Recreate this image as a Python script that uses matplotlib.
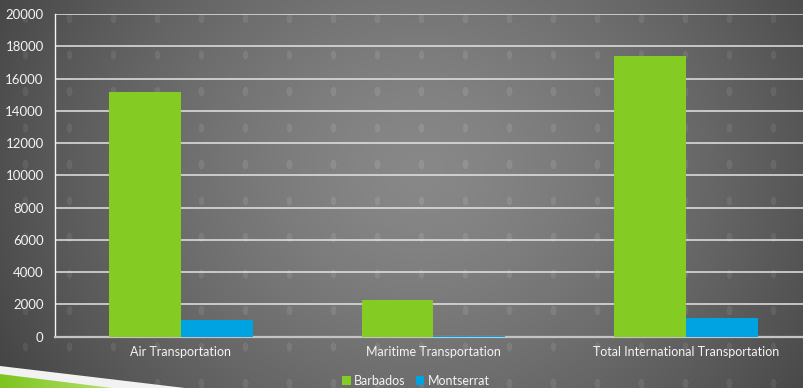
import numpy as np
import matplotlib
matplotlib.use("Agg")
import matplotlib.pyplot as plt
from matplotlib.patches import Polygon, Patch

plt.rcParams['font.family'] = ['Lato', 'DejaVu Sans']

categories = ["Air Transportation", "Maritime Transportation", "Total International Transportation"]
barbados = [15150, 2250, 17400]
montserrat = [1050, 60, 1180]
series_names = ["Barbados", "Montserrat"]
y_ticks = [0, 2000, 4000, 6000, 8000, 10000, 12000, 14000, 16000, 18000, 20000]

GREEN = "#84CB23"
BLUE = "#00A3E2"

W, H = 804, 388
fig = plt.figure(figsize=(W / 100, H / 100), dpi=100)

# ---- background: radial grey gradient with a dotted pattern ----
bg = fig.add_axes([0, 0, 1, 1], zorder=-10)
yy, xx = np.mgrid[0:H, 0:W].astype(float)
r = np.sqrt(((xx - 420) / 480) ** 2 + ((yy - 170) / 420) ** 2)
val = 136 - 68 * np.clip(r, 0, 1.3) ** 1.4
# dot grid
for cx in np.arange(25, W + 20, 44):
    for cy in np.arange(18, H + 20, 36.5):
        m = ((xx - cx) / 3.0) ** 2 + ((yy - cy) / 4.5) ** 2 <= 1
        val[m] += 12
img = np.clip(val, 0, 255) / 255.0
bg.imshow(np.dstack([img, img, img]), extent=(0, W, H, 0), aspect="auto", interpolation="bilinear")
bg.set_xlim(0, W)
bg.set_ylim(H, 0)
bg.axis("off")

# decorative stripes in the lower-left corner
bg.add_patch(Polygon([(0, 366), (185, H), (0, H)], closed=True, facecolor="#f2f2f2", edgecolor="none"))
stripe = np.linspace(0, 1, 130)
grad = np.dstack([
    np.tile(0.49 + 0.25 * stripe, (16, 1)),
    np.tile(0.77 + 0.12 * stripe, (16, 1)),
    np.tile(0.12 + 0.35 * stripe, (16, 1)),
])
gim = bg.imshow(grad, extent=(0, 130, H, 372), aspect="auto", zorder=3)
gpoly = Polygon([(0, 374), (112, H), (0, H)], closed=True, transform=bg.transData)
gim.set_clip_path(gpoly)

# ---- bar chart ----
left = 54.75 / W
bottom = (H - 336.7) / H
ax = fig.add_axes([left, bottom, 757.5 / W, 322.7 / H])
ax.patch.set_alpha(0)

x = np.arange(len(categories))
bw = 0.285
ax.bar(x - bw / 2, barbados, width=bw, color=GREEN, zorder=3, label=series_names[0])
ax.bar(x + bw / 2, montserrat, width=bw, color=BLUE, zorder=3, label=series_names[1])

ax.set_xlim(-0.5, len(categories) - 0.5)
ax.set_ylim(0, 20000)
ax.set_yticks(y_ticks)
ax.set_yticklabels([str(t) for t in y_ticks])
ax.set_xticks(x)
ax.set_xticklabels(categories)

ax.yaxis.grid(True, color="#e4e4e4", linewidth=1.1, zorder=1)
ax.set_axisbelow(True)
ax.tick_params(axis="y", length=0, pad=8, labelsize=9.5, labelcolor="#f4f4f4")
ax.tick_params(axis="x", length=0, pad=7, labelsize=9, labelcolor="#f4f4f4")

for s in ("top", "right"):
    ax.spines[s].set_visible(False)
ax.spines["left"].set_color("#f4f4f4")
ax.spines["left"].set_linewidth(1.0)
ax.spines["bottom"].set_color("#c4c4c4")
ax.spines["bottom"].set_linewidth(1.6)
ax.spines["bottom"].set_zorder(2.5)

handles = [Patch(facecolor=GREEN, edgecolor="none"), Patch(facecolor=BLUE, edgecolor="none")]
fig.legend(handles, series_names, loc="center", bbox_to_anchor=(416 / W, 1 - 381 / H),
           ncol=2, frameon=False, fontsize=9, labelcolor="#f4f4f4",
           handlelength=0.7, handleheight=0.7, handletextpad=0.25, columnspacing=0.8,
           borderpad=0, borderaxespad=0)

fig.savefig("out.png", dpi=100)
